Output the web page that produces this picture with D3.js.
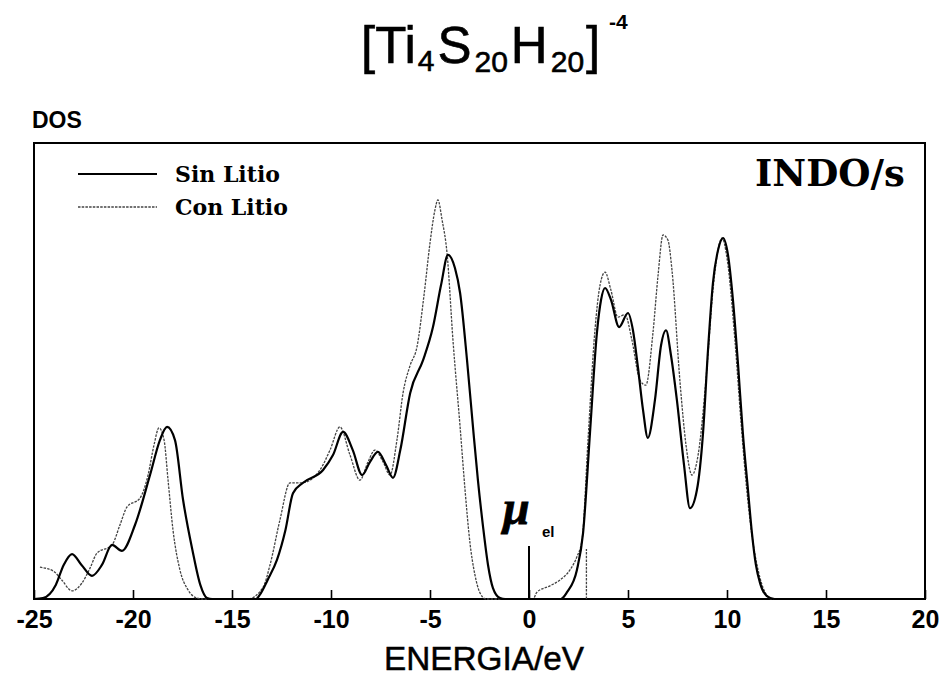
<!DOCTYPE html>
<html>
<head>
<meta charset="utf-8">
<script src="https://d3js.org/d3.v7.min.js"></script>
<style>
    body { margin: 0; background: #fff; }
    #chart-area svg { display: block; }
</style>
</head>
<body>
<div id="chart-area"></div>
<script>

// Energies (eV) and DOS (arbitrary units)
var sinLitioE = [-25, -24.55, -23.9, -23.5, -23.08, -22.6, -22.07, -21.57, -21.06, -20.56, -19.9, -19.14, -18.64, -18.28,
    -17.88, -17.47, -17.0, -16.6, -16.26, -16.0, -13.8, -13.6, -13.2, -12.73, -12.3, -11.92, -11.41, -10.4, -9.9, -9.39,
    -8.9, -8.43, -8.03, -7.63, -7.22, -6.87, -6.5, -6.0, -5.35, -4.85, -4.44, -4.09, -3.74, -3.48, -3.13, -2.83, -2.58,
    -2.32, -2.07, -1.82, -1.46, -1.2, 1.6, 1.92, 2.42, 2.73, 3.08, 3.43, 3.64, 3.84, 4.14, 4.55, 5.0, 5.25, 5.5, 5.76,
    6.0, 6.36, 6.67, 6.92, 7.17, 7.47, 7.83, 8.13, 8.48, 8.79, 9.04, 9.29, 9.55, 9.8, 10.05, 10.3, 10.56, 10.8, 11.06,
    11.26, 11.46, 11.67, 12.0, 12.4, 20];
var sinLitioDOS = [0, 0.2, 3.1, 7.5, 9.9, 7.5, 5.1, 7.5, 11.9, 10.6, 16.3, 27.3, 35, 37.9,
    35, 21.8, 10.8, 3.1, 0.2, 0, 0, 0.9, 4.2, 8.6, 15.2, 23.3, 25.6, 28.4, 31.7, 36.8,
    32.8, 27.3, 30.2, 32.4, 29.5, 26.7, 32.8, 45.4, 52.6, 59.9, 69.2, 75.8, 72.9, 67.4, 52.6, 37.9, 26.2,
    15.9, 7.5, 2.4, 0.2, 0, 0, 1.5, 6.4, 14.5, 36.6, 58.6, 65.9, 68.5, 65.9, 59.9, 63, 59.2, 51.1, 41.6,
    35.5, 43.8, 55.9, 59.2, 53.7, 43.8, 29.5, 20, 24, 36.6, 54.8, 69.6, 76.9, 79.5, 75.8, 65.9, 51.5, 36.6, 24,
    14.5, 7.5, 3.5, 0.7, 0, 0];

var conLitioE = [-24.7, -24.04, -23.6, -23.08, -22.58, -22.17, -21.82, -21.06, -20.66, -20.3, -19.65, -19.24, -18.94,
    -18.69, -18.43, -18.23, -17.98, -17.63, -17.22, -16.77, -16.5, -14.2, -13.43, -13.08, -12.58, -12.07, -11.46, -10.56,
    -10.05, -9.55, -9.04, -8.54, -8.13, -7.78, -7.37, -7.02, -6.67, -6.36, -6.0, -5.66, -5.3, -5.0, -4.75, -4.6, -4.39,
    -4.14, -3.84, -3.48, -3.23, -2.98, -2.73, -2.47, -2.17, 0.2, 0.4, 1.06, 1.57, 2.07, 2.42, 2.68, 2.98, 3.33, 3.59,
    3.84, 4.14, 4.49, 4.85, 5.2, 5.6, 5.9, 6.26, 6.52, 6.77, 7.02, 7.22, 7.63, 7.93, 8.23, 8.54, 8.99, 9.29, 9.6, 9.75,
    10.0, 10.4, 10.7, 11.0, 11.26, 11.57, 11.92, 12.27, 20];
var conLitioDOS = [7.0, 6.2, 4.2, 1.8, 3.5, 6.8, 10.1, 11.9, 16.3, 20.3, 22.2, 27.3, 33.9,
    37.7, 35, 26.2, 15.2, 6.4, 2, 0.2, 0, 0, 2.6, 7.5, 17.4, 25.6, 25.6, 28.4,
    32.8, 37.9, 31.7, 26.2, 30.2, 32.8, 30.2, 27.3, 35, 45.4, 51.5, 55.5, 67, 78.4, 85.7, 87.9, 83.5,
    76.2, 57, 37.9, 24, 12.3, 5.3, 1.3, 0, 0, 1.5, 2.9, 4.2, 6.4, 9.3, 13, 35, 59.2, 69.2,
    72, 68, 62.1, 62.6, 57, 48.2, 47.1, 58.6, 71.4, 80.2, 79, 72.5, 47.6, 33.9, 27.3, 31.7, 51.1, 68, 78, 79.5,
    75.1, 57, 39.4, 24, 14, 6.4, 1.5, 0, 0];

var seriesNames = ["Sin Litio", "Con Litio"];
var xTicks = [-25, -20, -15, -10, -5, 0, 5, 10, 15, 20];
var muEnergy = 0;        // chemical potential marker
var muLitioEnergy = 2.9; // dashed marker, with lithium


/*
 * DosChart - Object constructor function
 */
DosChart = function(_parentElement){
    this.parentElement = _parentElement;
    this.initVis();
};

DosChart.prototype.initVis = function(){
    var vis = this;

    vis.svgWidth = 945;
    vis.svgHeight = 688;

    // plot frame in page pixels
    vis.frame = { left: 34, right: 925, top: 143, bottom: 599 };

    vis.svg = d3.select("#" + vis.parentElement).append("svg")
        .attr("width", vis.svgWidth)
        .attr("height", vis.svgHeight);

    vis.x = d3.scaleLinear()
        .domain([-25, 20])
        .range([vis.frame.left, vis.frame.right]);

    vis.y = d3.scaleLinear()
        .domain([0, 100])
        .range([vis.frame.bottom, vis.frame.top + 2]);

    vis.line = d3.line()
        .curve(d3.curveMonotoneX)
        .x(function(d){ return vis.x(d.e); })
        .y(function(d){ return vis.y(d.v); });

    vis.drawTitle();
    vis.drawFrame();
    vis.drawCurves();
    vis.drawLegend();
};

DosChart.prototype.drawTitle = function(){
    var vis = this;
    var font = "'Liberation Sans', Arial, sans-serif";

    var t = vis.svg.append("text")
        .attr("x", 361)
        .attr("y", 63)
        .attr("font-family", font)
        .attr("font-size", 51)
        .attr("stroke", "#000")
        .attr("stroke-width", 0.6)
        .attr("fill", "#000");
    t.append("tspan").text("[Ti");
    t.append("tspan").attr("font-size", 30).attr("dy", 8).attr("dx", 2).text("4");
    t.append("tspan").attr("dy", -8).attr("dx", 3).text("S");
    t.append("tspan").attr("font-size", 30).attr("dy", 9).attr("dx", 3).text("20");
    t.append("tspan").attr("dy", -9).attr("dx", 3).text("H");
    t.append("tspan").attr("font-size", 30).attr("dy", 9).attr("dx", 3).text("20");
    t.append("tspan").attr("dy", -9).attr("dx", 2).text("]");

    vis.svg.append("text")
        .attr("x", 609)
        .attr("y", 29)
        .attr("font-family", font)
        .attr("font-weight", "bold")
        .attr("font-size", 21)
        .text("-4");

    vis.svg.append("text")
        .attr("x", 32)
        .attr("y", 128)
        .attr("font-family", font)
        .attr("font-weight", "bold")
        .attr("font-size", 23)
        .text("DOS");
};

DosChart.prototype.drawFrame = function(){
    var vis = this;
    var f = vis.frame;

    vis.svg.append("rect")
        .attr("x", f.left)
        .attr("y", f.top)
        .attr("width", f.right - f.left)
        .attr("height", f.bottom - f.top)
        .attr("fill", "none")
        .attr("stroke", "#000")
        .attr("stroke-width", 2);

    // ticks point inward, labels below
    vis.xAxis = d3.axisBottom(vis.x)
        .tickValues(xTicks)
        .tickSizeInner(-9)
        .tickSizeOuter(0)
        .tickPadding(11)
        .tickFormat(d3.format("d"));

    var ax = vis.svg.append("g")
        .attr("class", "x-axis axis")
        .attr("transform", "translate(0," + f.bottom + ")")
        .call(vis.xAxis);
    ax.select(".domain").remove();
    ax.selectAll(".tick line").attr("stroke", "#000").attr("stroke-width", 1.6);
    ax.selectAll(".tick text")
        .text(function(d){ return d < 0 ? "-" + Math.abs(d) : d; })
        .attr("font-family", "'Liberation Sans', Arial, sans-serif")
        .attr("font-weight", "bold")
        .attr("font-size", 25)
        .attr("fill", "#000");

    vis.svg.append("text")
        .attr("x", 484)
        .attr("y", 670)
        .attr("text-anchor", "middle")
        .attr("font-family", "'Liberation Sans', Arial, sans-serif")
        .attr("font-size", 34)
        .attr("stroke", "#000")
        .attr("stroke-width", 0.5)
        .attr("textLength", 200)
        .attr("lengthAdjust", "spacingAndGlyphs")
        .text("ENERGIA/eV");

    vis.svg.append("text")
        .attr("x", 755)
        .attr("y", 186)
        .attr("font-family", "'DejaVu Serif', serif")
        .attr("font-weight", "bold")
        .attr("font-size", 37)
        .text("INDO/s");
};

DosChart.prototype.drawCurves = function(){
    var vis = this;

    var sinData = sinLitioE.map(function(e, i){ return { e: e, v: sinLitioDOS[i] }; });
    var conData = conLitioE.map(function(e, i){ return { e: e, v: conLitioDOS[i] }; });

    vis.svg.append("path")
        .datum(conData)
        .attr("class", "con-litio")
        .attr("d", vis.line)
        .attr("fill", "none")
        .attr("stroke", "#444")
        .attr("stroke-width", 1.3)
        .attr("stroke-dasharray", "2.5,1.2");

    vis.svg.append("path")
        .datum(sinData)
        .attr("class", "sin-litio")
        .attr("d", vis.line)
        .attr("fill", "none")
        .attr("stroke", "#000")
        .attr("stroke-width", 2.2);

    // chemical potential markers
    vis.svg.append("line")
        .attr("x1", vis.x(muEnergy)).attr("x2", vis.x(muEnergy))
        .attr("y1", vis.frame.bottom).attr("y2", 546)
        .attr("stroke", "#000")
        .attr("stroke-width", 2);

    vis.svg.append("line")
        .attr("x1", vis.x(muLitioEnergy)).attr("x2", vis.x(muLitioEnergy))
        .attr("y1", vis.frame.bottom).attr("y2", 549)
        .attr("stroke", "#444")
        .attr("stroke-width", 1.3)
        .attr("stroke-dasharray", "2.5,1.2");

    vis.svg.append("text")
        .attr("x", 503)
        .attr("y", 524)
        .attr("font-family", "'Liberation Serif', 'Times New Roman', serif")
        .attr("font-weight", "bold")
        .attr("font-style", "italic")
        .attr("font-size", 48)
        .attr("stroke", "#000")
        .attr("stroke-width", 0.8)
        .text("\u03bc");

    vis.svg.append("text")
        .attr("x", 542)
        .attr("y", 537)
        .attr("font-family", "'Liberation Sans', Arial, sans-serif")
        .attr("font-weight", "bold")
        .attr("font-size", 15)
        .text("el");
};

DosChart.prototype.drawLegend = function(){
    var vis = this;
    var rows = [
        { name: seriesNames[0], y: 174, color: "#000", width: 2, dash: null },
        { name: seriesNames[1], y: 207, color: "#444", width: 1.3, dash: "2.5,1.2" }
    ];

    var g = vis.svg.selectAll(".legend")
        .data(rows)
        .enter().append("g")
        .attr("class", "legend")
        .attr("transform", function(d){ return "translate(0," + d.y + ")"; });

    g.append("line")
        .attr("x1", 78).attr("x2", 157)
        .attr("stroke", function(d){ return d.color; })
        .attr("stroke-width", function(d){ return d.width; })
        .attr("stroke-dasharray", function(d){ return d.dash; });

    g.append("text")
        .attr("x", 175)
        .attr("y", 8)
        .attr("font-family", "'DejaVu Serif', serif")
        .attr("font-weight", "bold")
        .attr("font-size", 22)
        .text(function(d){ return d.name; });
};

var chart = new DosChart("chart-area");

</script>
</body>
</html>
